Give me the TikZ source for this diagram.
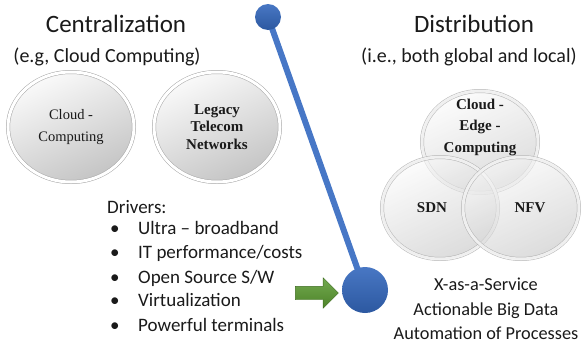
\documentclass[tikz,border=0pt]{standalone}
\usepackage{fontspec}
\setmainfont{Carlito}
\newfontfamily\timesfont{Liberation Serif}
\usetikzlibrary{shapes.geometric,shapes.arrows}
\definecolor{BallBlue}{HTML}{3468BD}
\definecolor{LineBlue}{HTML}{4777C6}
\definecolor{ArrowGreen}{HTML}{5A9A30}
\definecolor{DiscGray}{HTML}{C4C4C4}
\definecolor{DiscLight}{HTML}{FAFAFA}
\definecolor{RimGray}{HTML}{A6A6A6}
\definecolor{TextInk}{HTML}{1A1A1A}

\begin{document}
\begin{tikzpicture}[x=1pt, y=-1pt,
    title/.style={font=\fontsize{25}{30}\selectfont, text=TextInk, inner sep=0, anchor=base},
    sub/.style={font=\fontsize{20}{24}\selectfont, text=TextInk, inner sep=0, anchor=base},
    listline/.style={font=\fontsize{19}{23}\selectfont, text=TextInk, inner sep=0, anchor=base west},
    outcome/.style={font=\fontsize{18.3}{23}\selectfont, text=TextInk, inner sep=0, anchor=base},
    disc/.style={ellipse, minimum width=126pt, minimum height=110pt, inner sep=0,
      top color=DiscLight, bottom color=DiscGray, shading angle=25,
      draw=RimGray, line width=0.5pt,
      double=white, double distance=3pt, align=center, text=TextInk,
      font=\timesfont\fontsize{14.5}{22}\selectfont},
    venn/.style={disc, minimum width=116pt, minimum height=102pt,
      fill opacity=0.6, draw opacity=0.8},
    tag/.style={font=\timesfont\bfseries\fontsize{15}{21.5}\selectfont, text=TextInk,
      align=center, inner sep=0},
    dot/.style={circle, inner sep=0, top color=BallBlue!90!white, bottom color=BallBlue!85!black},
    pole/.style={line width=6pt, draw=LineBlue}
  ]
    \useasboundingbox (0,0) rectangle (582,343);

    % left side: centralization
    \node[title] (central) at (116,32) {Centralization};
    \node[sub] (centralsub) at (107,62) {(e.g, Cloud Computing)};
    \node[disc] (cloud) at (71,127) {Cloud -\\Computing};
    \node[disc, font=\timesfont\bfseries\fontsize{15}{17.5}\selectfont] (legacy) at (217,127)
      {Legacy\\Telecom\\Networks};

    \node[listline] (drivers) at (107,213) {Drivers:};
    \node[listline] (drv1) at (110,234) {\makebox[28pt][l]{\textbullet}Ultra -- broadband};
    \node[listline] (drv2) at (110,258) {\makebox[28pt][l]{\textbullet}IT performance/costs};
    \node[listline] (drv3) at (110,283) {\makebox[28pt][l]{\textbullet}Open Source S/W};
    \node[listline] (drv4) at (110,306) {\makebox[28pt][l]{\textbullet}Virtualization};
    \node[listline] (drv5) at (110,331) {\makebox[28pt][l]{\textbullet}Powerful terminals};

    % the shift
    \coordinate (ptop) at (268,17);
    \coordinate (pbot) at (365,290);
    \draw[pole] (ptop) -- (pbot);
    \node[dot, minimum size=26pt] (top) at (ptop) {};
    \node[dot, minimum size=46pt] (bot) at (pbot) {};
    \node[single arrow, minimum height=43pt, inner xsep=0pt, inner ysep=6.5pt,
      single arrow head extend=8.5pt, single arrow head indent=0pt,
      top color=ArrowGreen!85!white, bottom color=ArrowGreen!85!black,
      draw=ArrowGreen!70!black, line width=0.4pt] (push) at (313.5,293) {};

    % right side: distribution
    \node[title] (distrib) at (474,32) {Distribution};
    \node[sub] (distribsub) at (469,62) {(i.e., both global and local)};
    \node[venn] (edge) at (480,142) {};
    \node[venn] (sdn) at (440,208) {};
    \node[venn] (nfv) at (521,208) {};
    \node[tag] (edgetag) at (480,127) {Cloud -\\Edge -\\Computing};
    \node[tag] (sdntag) at (432,208) {SDN};
    \node[tag] (nfvtag) at (530,208) {NFV};

    \node[outcome] (xaas) at (486,290) {X-as-a-Service};
    \node[outcome] (bigdata) at (486,315) {Actionable Big Data};
    \node[outcome] (automation) at (486,339) {Automation of Processes};
  \end{tikzpicture}
\end{document}
